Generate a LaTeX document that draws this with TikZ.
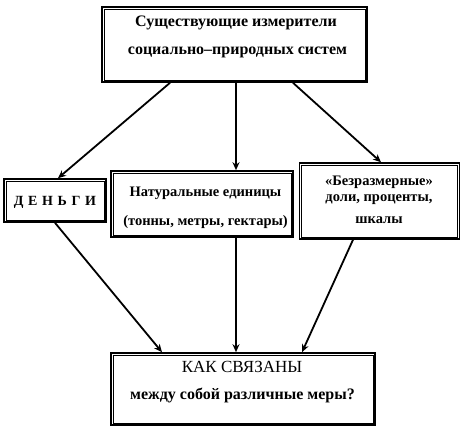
\documentclass[tikz,border=0pt]{standalone}
\usepackage{fontspec}
\setmainfont{Liberation Serif}
\usetikzlibrary{arrows.meta,calc}
\tikzset{
  obox/.style={draw, line width=1.6pt, inner sep=0pt},
  txt/.style={font=\bfseries\fontsize{14.5}{16}\selectfont, inner sep=0pt},
  big/.style={font=\bfseries\fontsize{16}{18}\selectfont},
  conn/.style={line width=1.8pt, -{Stealth[length=8pt,width=7pt]}},
}
\newcommand{\ibox}[1]{\draw[line width=0.6pt] ([shift={(3pt,-3pt)}]#1.north west) rectangle ([shift={(-3pt,3pt)}]#1.south east);}
\begin{document}
\begin{tikzpicture}[x=1pt,y=-1pt]
\useasboundingbox (0,0) rectangle (464,432);
\node[obox, minimum width=265pt, minimum height=75pt] (top) at (234.5,44.5) {};
\node[obox, minimum width=102pt, minimum height=43pt] (den) at (55,200.5) {};
\node[obox, minimum width=182pt, minimum height=66pt] (nat) at (202,204) {};
\node[obox, minimum width=160pt, minimum height=76pt] (bez) at (379.5,201) {};
\node[obox, minimum width=264pt, minimum height=72pt] (bot) at (243,389) {};
\foreach \n in {top,den,nat,bez,bot} {\ibox{\n}}
\node[txt, big] (t1) at (236,23) {Существующие измерители};
\node[txt, big] (t2) at (237.5,52) {социально–природных систем};
\node[txt, font=\bfseries\fontsize{14}{16}\selectfont] (d1) at (55,202) {Д\,\,Е\,\,Н\,\,Ь\,\,Г\,\,И};
\node[txt] (n1) at (205.5,193) {Натуральные единицы};
\node[txt] (n2) at (205.5,222) {(тонны, метры, гектары)};
\node[txt] (b1) at (379,182) {«Безразмерные»};
\node[txt] (b2) at (379,200) {доли, проценты,};
\node[txt] (b3) at (379,220) {шкалы};
\node[txt, font=\fontsize{17}{19}\selectfont] (k1) at (242,367) {КАК СВЯЗАНЫ};
\node[txt, big] (k2) at (242.5,395) {между собой различные меры?};
\draw[conn] ([xshift=-64.5pt]top.south) -- ([xshift=3pt]den.north);
\draw[conn] ([xshift=1.5pt]top.south) -- ([xshift=34pt]nat.north);
\draw[conn] ([xshift=58.5pt]top.south) -- ([xshift=1.5pt]bez.north);
\draw[conn] (den.south) -- ([xshift=-81pt]bot.north);
\draw[conn] ([xshift=34pt]nat.south) -- ([xshift=-7pt]bot.north);
\draw[conn] ([xshift=-26.5pt]bez.south) -- ([xshift=59pt]bot.north);
\end{tikzpicture}
\end{document}
